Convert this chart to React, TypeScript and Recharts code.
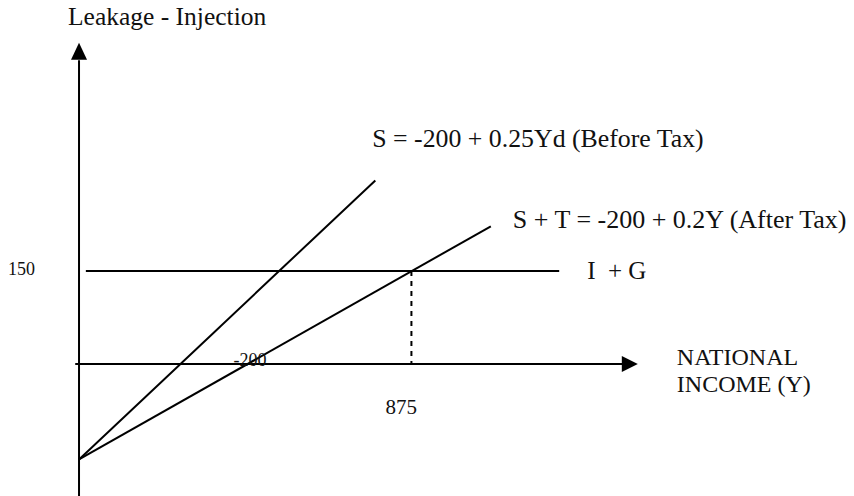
import React from 'react';
import { ComposedChart, Line, XAxis, YAxis, ReferenceDot } from 'recharts';

type Pt = { x: number; y: number };

const WIDTH = 854;
const HEIGHT = 496;

// axis ranges in income / leakage units
const X_DOMAIN: [number, number] = [-208, 2040];
const Y_DOMAIN: [number, number] = [-213, 587];

const INTERCEPT = -154;
const INJECTION = 150; // I + G
const EQUILIBRIUM = 875;

const incomeAxis: Pt[] = [{ x: -10, y: 0 }, { x: 1432, y: 0 }];
const leakageAxis: Pt[] = [{ x: 0, y: -213 }, { x: 0, y: 490 }];
const beforeTax: Pt[] = [{ x: 0, y: INTERCEPT }, { x: 780, y: 296 }];
const afterTax: Pt[] = [{ x: 0, y: INTERCEPT }, { x: 1084, y: 222 }];
const injection: Pt[] = [{ x: 18, y: INJECTION }, { x: 1264, y: INJECTION }];
const dropLine: Pt[] = [{ x: EQUILIBRIUM, y: INJECTION }, { x: EQUILIBRIUM, y: 0 }];

const Y_ARROW_TIP: Pt = { x: 0, y: 518 };
const X_ARROW_TIP: Pt = { x: 1471, y: 0 };
const AFTER_TAX_ROOT: Pt = { x: 445, y: 0 };

const TITLE = 'Leakage - Injection';
const BEFORE_TAX_LABEL = 'S = -200 + 0.25Yd (Before Tax)';
const AFTER_TAX_LABEL = 'S + T = -200 + 0.2Y (After Tax)';
const INJECTION_LABEL = 'I\u00a0\u00a0+ G';
const X_TITLE = ['NATIONAL', 'INCOME (Y)'];
const INJECTION_TICK = '150';
const INTERCEPT_TICK = '-200';
const EQUILIBRIUM_TICK = '875';

const FONT = "'Liberation Serif', 'Times New Roman', serif";
const INK = '#111';

// text drawn relative to a point on the chart
function note(lines: string[], dx: number, dy: number, size: number, anchor: 'start' | 'middle' = 'start', lineGap = 27) {
  return (p: any) => (
    <text x={p.cx + dx} y={p.cy + dy} fontSize={size} fontFamily={FONT} fill={INK} textAnchor={anchor}>
      {lines.map((s, i) => (
        <tspan key={i} x={p.cx + dx} dy={i === 0 ? 0 : lineGap}>
          {s}
        </tspan>
      ))}
    </text>
  );
}

const upArrow = (p: any) => (
  <path d={`M${p.cx},${p.cy} L${p.cx - 8},${p.cy + 17} L${p.cx + 8},${p.cy + 17} Z`} fill="#000" />
);

const rightArrow = (p: any) => (
  <path d={`M${p.cx},${p.cy} L${p.cx - 16},${p.cy - 8} L${p.cx - 16},${p.cy + 8} Z`} fill="#000" />
);

export default function App() {
  return (
    <div style={{ position: 'absolute', left: 0, top: 0, width: WIDTH, height: HEIGHT, background: '#fff' }}>
      <ComposedChart width={WIDTH} height={HEIGHT} margin={{ top: 0, right: 0, bottom: 0, left: 0 }}>
        <XAxis dataKey="x" type="number" domain={X_DOMAIN} allowDataOverflow hide />
        <YAxis dataKey="y" type="number" domain={Y_DOMAIN} allowDataOverflow hide />

        {/* axes */}
        <Line data={leakageAxis} dataKey="y" type="linear" stroke="#000" strokeWidth={2} dot={false} activeDot={false} isAnimationActive={false} />
        <Line data={incomeAxis} dataKey="y" type="linear" stroke="#000" strokeWidth={2} dot={false} activeDot={false} isAnimationActive={false} />
        <ReferenceDot x={Y_ARROW_TIP.x} y={Y_ARROW_TIP.y} r={0} shape={upArrow} />
        <ReferenceDot x={X_ARROW_TIP.x} y={X_ARROW_TIP.y} r={0} shape={rightArrow} />

        {/* schedules */}
        <Line data={injection} dataKey="y" type="linear" stroke="#000" strokeWidth={2} dot={false} activeDot={false} isAnimationActive={false} />
        <Line data={beforeTax} dataKey="y" type="linear" stroke="#000" strokeWidth={2} dot={false} activeDot={false} isAnimationActive={false} />
        <Line data={afterTax} dataKey="y" type="linear" stroke="#000" strokeWidth={2} dot={false} activeDot={false} isAnimationActive={false} />
        <Line data={dropLine} dataKey="y" type="linear" stroke="#000" strokeWidth={2} strokeDasharray="5 5" dot={false} activeDot={false} isAnimationActive={false} />

        {/* labels */}
        <ReferenceDot x={Y_ARROW_TIP.x} y={Y_ARROW_TIP.y} r={0} shape={note([TITLE], -11, -18, 25.5)} />
        <ReferenceDot x={beforeTax[1].x} y={beforeTax[1].y} r={0} shape={note([BEFORE_TAX_LABEL], -3, -33, 25.8)} />
        <ReferenceDot x={afterTax[1].x} y={afterTax[1].y} r={0} shape={note([AFTER_TAX_LABEL], 22, 2, 26)} />
        <ReferenceDot x={injection[1].x} y={injection[1].y} r={0} shape={note([INJECTION_LABEL], 28, 8, 25)} />
        <ReferenceDot x={X_ARROW_TIP.x} y={X_ARROW_TIP.y} r={0} shape={note(X_TITLE, 39, 1, 24)} />
        <ReferenceDot x={0} y={INJECTION} r={0} shape={note([INJECTION_TICK], -71, 4, 18)} />
        <ReferenceDot x={AFTER_TAX_ROOT.x} y={AFTER_TAX_ROOT.y} r={0} shape={note([INTERCEPT_TICK], 2, 2, 18, 'middle')} />
        <ReferenceDot x={EQUILIBRIUM} y={0} r={0} shape={note([EQUILIBRIUM_TICK], -26, 50, 21)} />
      </ComposedChart>
    </div>
  );
}
